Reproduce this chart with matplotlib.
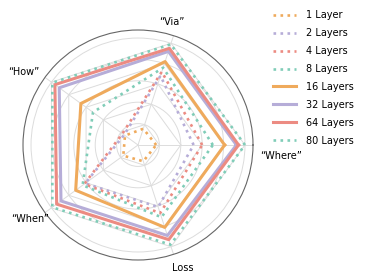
import numpy as np
import matplotlib.pyplot as plt

# axes in order: Where (0 deg), Via, How, When, Loss (counter-clockwise)
axis_labels = ['\u201cWhere\u201d', '\u201cVia\u201d', '\u201cHow\u201d', '\u201cWhen\u201d', 'Loss']

layers = ['1 Layer', '2 Layers', '4 Layers', '8 Layers',
          '16 Layers', '32 Layers', '64 Layers', '80 Layers']
l1 = [17, 16, 15, 17, 16]
l2 = [52, 68, 16, 61, 61]
l4 = [60, 72, 18, 62, 67]
l8 = [70, 76, 52, 64, 71]
l16 = [81, 82, 66, 72, 81]
l32 = [92, 92, 91, 89, 89]
l64 = [94, 95, 96, 94, 93]
l80 = [100, 99, 99, 99, 98]
grid_levels = [20, 40, 60, 80, 100]

orange = '#EFAA5C'
purple = '#B6ADD8'
red = '#EC8B82'
teal = '#80CDB8'
series = [l1, l2, l4, l8, l16, l32, l64, l80]
colors = [orange, purple, red, teal, orange, purple, red, teal]
styles = [':', ':', ':', ':', '-', '-', '-', ':']

theta = np.deg2rad(np.arange(5) * 72.0)
theta_c = np.append(theta, theta[0])

fig = plt.figure(figsize=(3.66, 2.79), dpi=100)
ax = fig.add_axes([23 / 366, 19 / 279, 230 / 366, 230 / 279], projection='polar')
ax.set_ylim(0, 107.5)
ax.set_xticks(theta)
ax.set_xticklabels([])
ax.set_yticks(grid_levels)
ax.set_yticklabels([])
ax.grid(color='#dcdcdc', lw=0.7)
ax.spines['polar'].set_color('#666666')
ax.spines['polar'].set_linewidth(0.8)

# polygon grid on top of the round one
for g in grid_levels:
    ax.plot(theta_c, [g] * 6, color='#dcdcdc', lw=0.7, zorder=1)

for vals, c, ls, name in zip(series, colors, styles, layers):
    v = np.append(vals, vals[0])
    lw = 2.2 if ls == '-' else 1.9
    ax.plot(theta_c, v, color=c, ls=ls, lw=lw, label=name, zorder=3)

# axis labels
label_pos = [(-4.4, 134), (74.5, 119), (147.4, 126.5), (214.4, 122), (-70, 122.4)]
for txt, (ang, r) in zip(axis_labels, label_pos):
    ax.text(np.deg2rad(ang), r, txt, ha='center', va='center', fontsize=7, clip_on=False)

fig.legend(loc='upper left', bbox_to_anchor=(273 / 366, 1 - 10 / 279), frameon=False,
           fontsize=7, labelspacing=0.82, handlelength=2.4, handletextpad=1.0,
           borderpad=0, borderaxespad=0)

fig.savefig('out.png', dpi=100)
